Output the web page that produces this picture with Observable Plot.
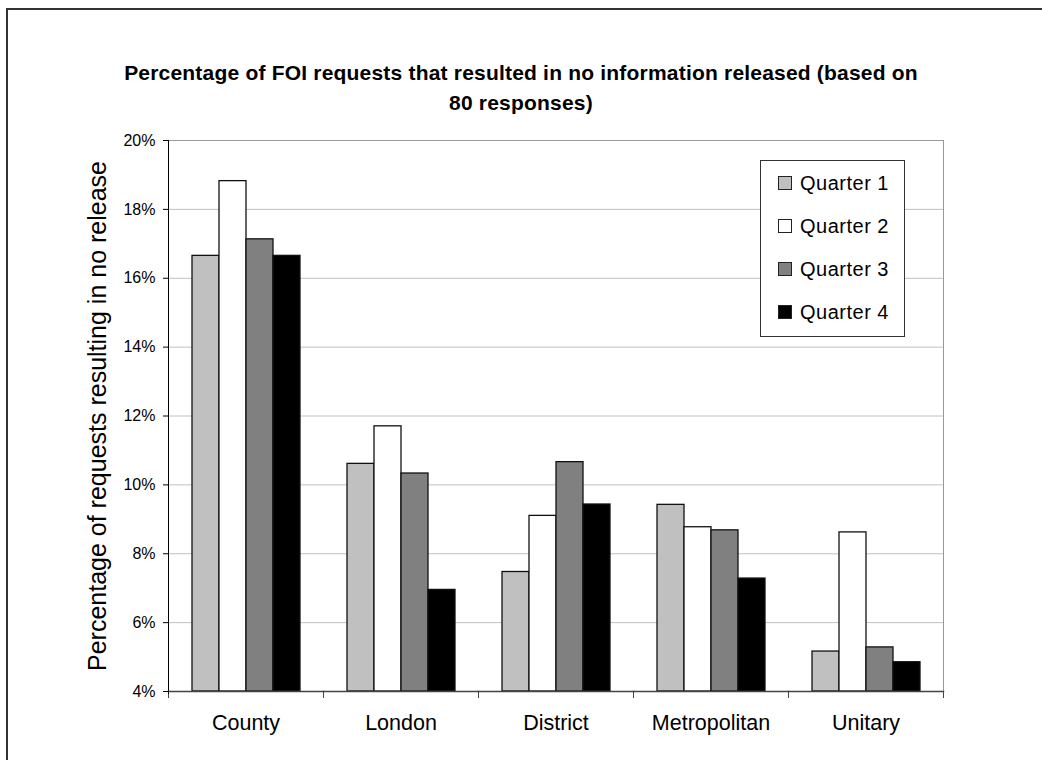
<!DOCTYPE html>
<html>
<head>
<meta charset="utf-8">
<script src="https://cdn.jsdelivr.net/npm/d3@7"></script>
<script src="https://cdn.jsdelivr.net/npm/@observablehq/plot@0.6"></script>
<style>
  html, body { margin: 0; padding: 0; background: #fff; }
  #wrap { position: relative; width: 1042px; height: 760px; overflow: hidden; background: #fff;
          font-family: "Liberation Sans", Arial, sans-serif; }
  #border { position: absolute; left: 6px; top: 8px; right: -10px; bottom: -10px;
            border-left: 2px solid #333; border-top: 2px solid #333; }
  #title { position: absolute; left: 0; width: 1042px; top: 58px; text-align: center;
           font-weight: bold; font-size: 21px; letter-spacing: 0.2px; line-height: 30px; color: #000; }
  #chart { position: absolute; left: 0; top: 120px; }
  #legend { position: absolute; left: 760px; top: 160px; width: 145px; height: 177px;
            border: 1px solid #333; background: #fff; box-sizing: border-box; }
  .item { position: absolute; left: 17px; height: 24px; display: flex; align-items: center;
          font-size: 20px; letter-spacing: 0.5px; color: #000; }
  .sw { width: 12px; height: 12px; border: 1px solid #222; margin-right: 8px; }
</style>
</head>
<body>
<div id="wrap">
  <div id="border"></div>
  <div id="title"></div>
  <div id="chart"></div>
  <div id="legend"></div>
</div>
<script>
const titleLines = ["Percentage of FOI requests that resulted in no information released (based on", "80 responses)"];
const yLabel = "Percentage of requests resulting in no release";
const categories = ["County", "London", "District", "Metropolitan", "Unitary"];
const quarters = ["Quarter 1", "Quarter 2", "Quarter 3", "Quarter 4"];
const quarter1 = [16.65, 10.61, 7.47, 9.42, 5.16];
const quarter2 = [18.82, 11.70, 9.10, 8.77, 8.62];
const quarter3 = [17.13, 10.33, 10.66, 8.68, 5.28];
const quarter4 = [16.65, 6.95, 9.43, 7.28, 4.85];
const yTicks = [4, 6, 8, 10, 12, 14, 16, 18, 20];
const colors = ["#c0c0c0", "#ffffff", "#808080", "#000000"];

const series = [quarter1, quarter2, quarter3, quarter4];
const rows = [];
categories.forEach((c, i) => series.forEach((s, j) => rows.push({category: c, quarter: quarters[j], value: s[i]})));

document.getElementById("title").innerHTML = titleLines.join("<br>");

const W = 1042, H = 640, mT = 20, mB = 69, mL = 167, mR = 99;
const plotH = H - mT - mB;
const yMin = yTicks[0], yMax = yTicks[yTicks.length - 1];

const chart = Plot.plot({
  width: W, height: H, marginTop: mT, marginBottom: mB, marginLeft: mL, marginRight: mR,
  style: {fontFamily: "'Liberation Sans', Arial, sans-serif", background: "transparent", overflow: "visible", color: "#000"},
  fx: {domain: categories, padding: 0, label: null},
  x: {domain: quarters, paddingInner: 0, paddingOuter: 0.771, axis: null},
  y: {domain: [yMin, yMax], label: null},
  color: {domain: quarters, range: colors},
  marks: [
    Plot.gridY(yTicks.slice(1, -1), {stroke: "#c0c0c0", strokeOpacity: 1}),
    Plot.frame({anchor: "top", stroke: "#999"}),
    Plot.frame({anchor: "right", stroke: "#999", facetAnchor: "right"}),
    Plot.barY(rows, {fx: "category", x: "quarter", y1: yMin, y2: "value", fill: "quarter", stroke: "#111", strokeWidth: 1.3}),
    Plot.frame({anchor: "bottom", stroke: "#444", strokeWidth: 1.5}),
    Plot.frame({anchor: "left", stroke: "#444", insetTop: plotH, insetBottom: -6}),
    Plot.frame({anchor: "right", stroke: "#444", insetTop: plotH, insetBottom: -6, facetAnchor: "right"}),
    Plot.frame({anchor: "left", stroke: "#000", insetBottom: -2, facetAnchor: "left"}),
    Plot.axisY({ticks: yTicks, tickFormat: d => d + "%", tickSize: 5, tickPadding: 8, fontSize: 16, label: null}),
    Plot.axisFx({anchor: "bottom", tickSize: 0, tickPadding: 23, fontSize: 21.5, label: null}),
    Plot.text([yLabel], {text: d => d, frameAnchor: "left", textAnchor: "middle", rotate: -90, dx: -71, fontSize: 25, facetAnchor: "left"})
  ]
});
document.getElementById("chart").appendChild(chart);

const legend = document.getElementById("legend");
quarters.forEach((q, i) => {
  const item = document.createElement("div");
  item.className = "item";
  item.style.top = (10 + i * 43) + "px";
  const sw = document.createElement("div");
  sw.className = "sw";
  sw.style.background = colors[i];
  item.appendChild(sw);
  item.appendChild(document.createTextNode(q));
  legend.appendChild(item);
});
</script>
</body>
</html>
